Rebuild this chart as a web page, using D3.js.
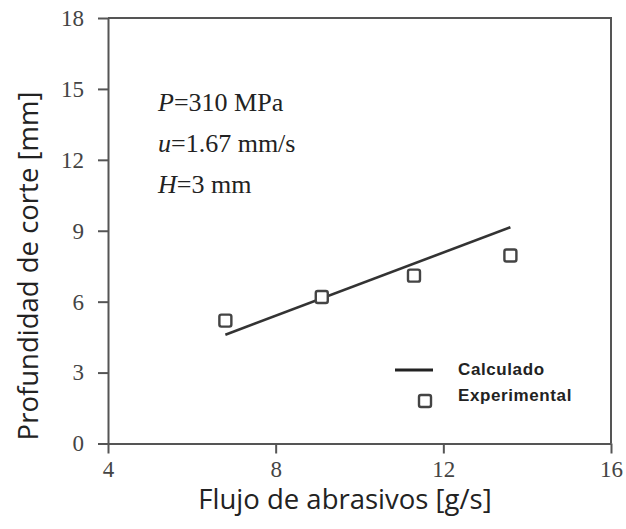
<!DOCTYPE html>
<head>
<meta charset="utf-8">
<title>Profundidad de corte</title>
<script src="https://d3js.org/d3.v7.min.js"></script>
<style>
  body { margin: 0; background: #fff; }
  .axis-title { font-family: "Open Sans", "DejaVu Sans", sans-serif; font-size: 27.5px; fill: #222; }
  .note { font-family: "Liberation Serif", "Times New Roman", serif; font-size: 26px; fill: #222; }
  .legend text { font-family: "Liberation Sans", Arial, sans-serif; font-weight: bold; font-size: 17px; fill: #222; letter-spacing: 0.6px; }
</style>
</head>
<body>
<div id="chart"></div>
<script>
// ---- data ----
const xTicks = [4, 8, 12, 16];
const yTicks = [0, 3, 6, 9, 12, 15, 18];

// experimental points
const expFlow  = [6.8, 9.1, 11.3, 13.6];
const expDepth = [5.2, 6.2, 7.1, 7.95];

// calculated line (end points)
const calcFlow  = [6.8, 13.6];
const calcDepth = [4.6, 9.15];

const notes = [
  {v: "P", rest: "=310 MPa"},
  {v: "u", rest: "=1.67 mm/s"},
  {v: "H", rest: "=3 mm"}
];

// ---- svg ----
const W = 626, H = 529;
const margin = {top: 18, right: 15, bottom: 85.5, left: 108};
const width = W - margin.left - margin.right,
      height = H - margin.top - margin.bottom;

const svg = d3.select("#chart").append("svg")
    .attr("width", W)
    .attr("height", H);
const g = svg.append("g")
    .attr("transform", "translate(" + margin.left + "," + margin.top + ")");

const x = d3.scaleLinear().domain([4, 16]).range([0, width]);
const y = d3.scaleLinear().domain([0, 18]).range([height, 0]);

// frame (top + right)
g.append("path")
    .attr("d", "M0,0H" + width + "V" + height)
    .attr("fill", "none")
    .attr("stroke", "#555")
    .attr("stroke-width", 2);

// axes
const xAxis = g.append("g")
    .attr("transform", "translate(0," + height + ")")
    .call(d3.axisBottom(x).tickValues(xTicks).tickSize(10).tickSizeOuter(0).tickPadding(7));
const yAxis = g.append("g")
    .call(d3.axisLeft(y).tickValues(yTicks).tickSize(10).tickSizeOuter(0).tickPadding(14));

[xAxis, yAxis].forEach(a => {
  a.select(".domain").attr("stroke", "#555").attr("stroke-width", 2);
  a.selectAll(".tick line").attr("stroke", "#555").attr("stroke-width", 2);
  a.selectAll(".tick text")
      .style("font-family", "'Liberation Serif', 'Times New Roman', serif")
      .style("font-size", "23px")
      .style("fill", "#444");
});

// calculated line
const line = d3.line()
    .x((d, i) => x(calcFlow[i]))
    .y(d => y(d));
g.append("path")
    .attr("d", line(calcDepth))
    .attr("fill", "none")
    .attr("stroke", "#333")
    .attr("stroke-width", 2.6);

// experimental squares
g.selectAll(".pt")
  .data(expDepth)
  .enter().append("rect")
    .attr("class", "pt")
    .attr("x", (d, i) => x(expFlow[i]) - 6)
    .attr("y", d => y(d) - 6)
    .attr("width", 12)
    .attr("height", 12)
    .attr("rx", 2)
    .attr("fill", "#fff")
    .attr("stroke", "#444")
    .attr("stroke-width", 2.4);

// conditions text
const nt = g.selectAll(".note")
  .data(notes)
  .enter().append("text")
    .attr("class", "note")
    .attr("x", 50)
    .attr("y", (d, i) => 93 + i * 41);
nt.append("tspan").attr("font-style", "italic").text(d => d.v);
nt.append("tspan").text(d => d.rest);

// legend
const lg = g.append("g").attr("class", "legend");
lg.append("line")
    .attr("x1", 287).attr("x2", 325)
    .attr("y1", 352).attr("y2", 352)
    .attr("stroke", "#222").attr("stroke-width", 3);
lg.append("text").attr("x", 350).attr("y", 357).text("Calculado");
lg.append("rect")
    .attr("x", 311).attr("y", 377).attr("width", 12).attr("height", 12).attr("rx", 2)
    .attr("fill", "#fff").attr("stroke", "#444").attr("stroke-width", 2.4);
lg.append("text").attr("x", 350).attr("y", 383).text("Experimental");

// axis titles
svg.append("text")
    .attr("class", "axis-title")
    .attr("x", 345)
    .attr("y", 509)
    .attr("text-anchor", "middle")
    .text("Flujo de abrasivos [g/s]");

svg.append("text")
    .attr("class", "axis-title")
    .attr("transform", "translate(38,266) rotate(-90)")
    .attr("text-anchor", "middle")
    .text("Profundidad de corte [mm]");
</script>
</body>
